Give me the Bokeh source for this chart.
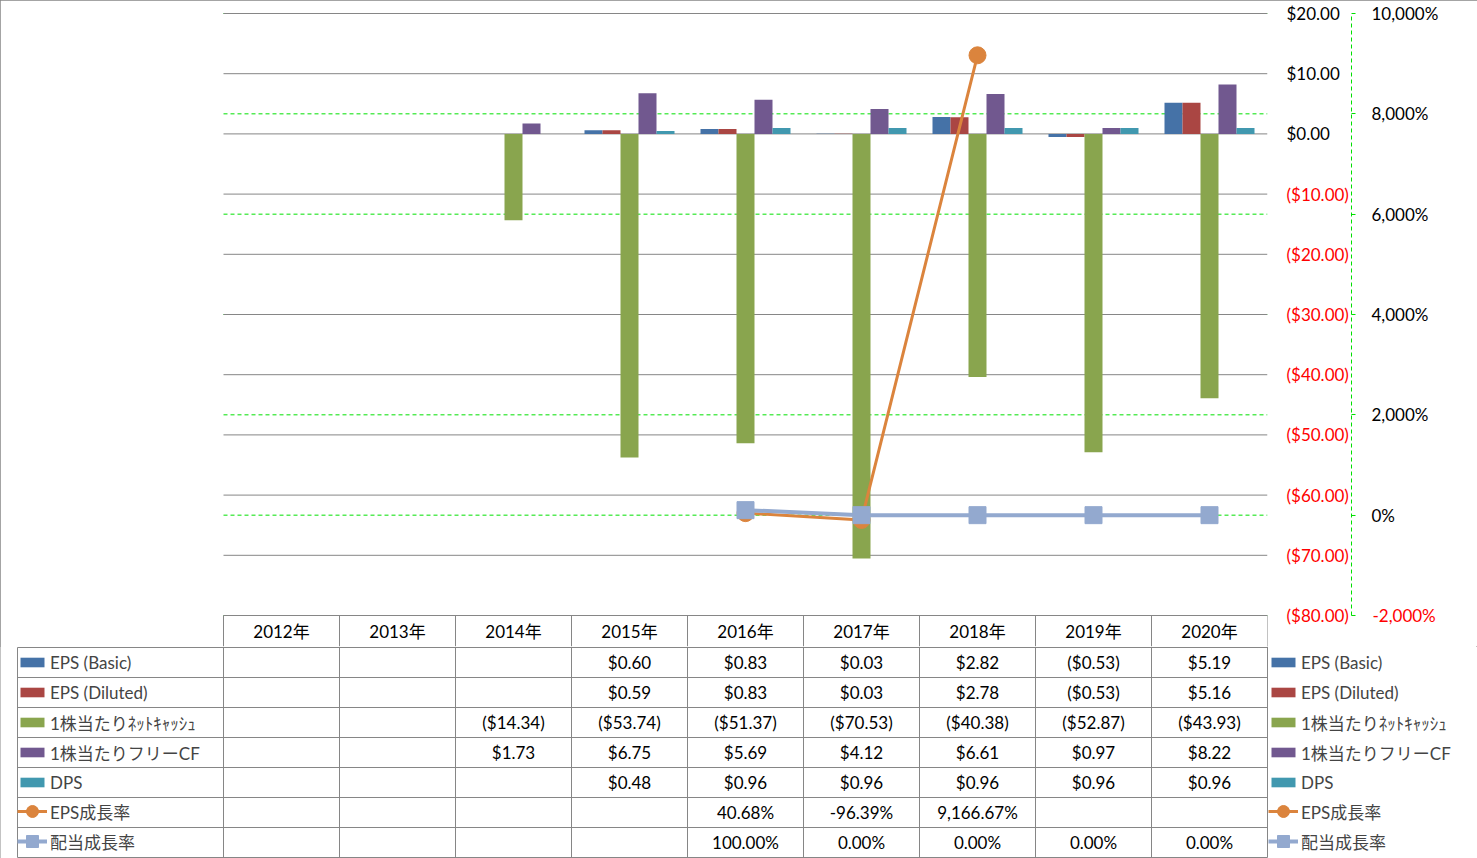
from bokeh.plotting import figure
from bokeh.layouts import column
from bokeh.models import (Range1d, FixedTicker, Legend, LegendItem, LinearAxis)
from bokeh.core.properties import value
from bokeh.embed import file_html
from bokeh.resources import INLINE

# ---------------- data ----------------
years = ["2012年", "2013年", "2014年", "2015年", "2016年", "2017年", "2018年", "2019年", "2020年"]
eps_basic = [None, None, None, 0.60, 0.83, 0.03, 2.82, -0.53, 5.19]
eps_diluted = [None, None, None, 0.59, 0.83, 0.03, 2.78, -0.53, 5.16]
net_cash = [None, None, -14.34, -53.74, -51.37, -70.53, -40.38, -52.87, -43.93]
fcf = [None, None, 1.73, 6.75, 5.69, 4.12, 6.61, 0.97, 8.22]
dps = [None, None, None, 0.48, 0.96, 0.96, 0.96, 0.96, 0.96]
eps_growth = [None, None, None, None, 40.68, -96.39, 9166.67, None, None]
div_growth = [None, None, None, None, 100.00, 0.00, 0.00, 0.00, 0.00]

bar_names = ["EPS (Basic)", "EPS (Diluted)", "1株当たりﾈｯﾄｷｬｯｼｭ", "1株当たりフリーCF", "DPS"]
line_names = ["EPS成長率", "配当成長率"]
dollar_ticks = [-80, -70, -60, -50, -40, -30, -20, -10, 0, 10, 20]
pct_ticks = [-2000, 0, 2000, 4000, 6000, 8000, 10000]

# ---------------- style / layout ----------------
FONT = "Lato, 'Noto Sans CJK JP', sans-serif"
FS = "17px"
bar_colors = ["#4572A7", "#AA4643", "#89A54E", "#71588F", "#4198AF"]
line_colors = ["#DB843D", "#93A9CF"]
GRID_GRAY = "#868686"
GREEN = "#00E000"
NAN = float("nan")

W, H = 1477, 858
TOP_H = 646
PLOT_L, PLOT_R = 223, 1267
PLOT_T, PLOT_B = 13, 615
FRAME_L, FRAME_T = 12, 11
HEADER_B = 647
ROW_H = 30.0
LEG_L = 17

ncat = len(years)
cat_w = (PLOT_R - PLOT_L) / ncat
leg_x = (LEG_L - PLOT_L) / cat_w

d_min, d_max = dollar_ticks[0], dollar_ticks[-1]
px_per_d = (PLOT_B - PLOT_T) / (d_max - d_min)
p_min, p_max = pct_ticks[0], pct_ticks[-1]
px_per_p = (PLOT_B - PLOT_T) / (p_max - p_min)

header_top = (PLOT_B - HEADER_B) / ROW_H
nrows = len(bar_names) + len(line_names)

# ================= top figure: chart + header row =================
top = figure(width=W, height=TOP_H, output_backend="svg", toolbar_location=None,
             x_range=Range1d((FRAME_L - PLOT_L) / cat_w, ncat),
             y_range=Range1d(d_max - (TOP_H - PLOT_T) / px_per_d,
                             d_max + (PLOT_T - FRAME_T) / px_per_d),
             x_axis_location=None, y_axis_location=None,
             min_border_left=FRAME_L, min_border_right=W - PLOT_R,
             min_border_top=FRAME_T, min_border_bottom=0,
             background_fill_color="white", border_fill_color="white")
top.outline_line_color = None
top.xgrid.visible = False
top.ygrid.visible = False
top.extra_y_ranges = {
    "pct": Range1d(p_max - (TOP_H - PLOT_T) / px_per_p, p_max + (PLOT_T - FRAME_T) / px_per_p),
    "tbl": Range1d((TOP_H - HEADER_B) / ROW_H, (FRAME_T - HEADER_B) / ROW_H),
}

# gridlines (secondary green dashed first, then gray)
top.segment(x0=[0] * len(pct_ticks), x1=[ncat] * len(pct_ticks), y0=pct_ticks, y1=pct_ticks,
            y_range_name="pct", line_color=GREEN, line_width=1, line_dash="4 3")
top.segment(x0=[0] * len(dollar_ticks), x1=[ncat] * len(dollar_ticks), y0=dollar_ticks, y1=dollar_ticks,
            line_color=GRID_GRAY, line_width=1)

# header row vertical lines + labels
vx = list(range(0, ncat + 1))
top.segment(x0=vx, x1=vx, y0=[header_top] * len(vx), y1=[0] * len(vx),
            y_range_name="tbl", line_color=GRID_GRAY, line_width=1)
top.text(x=[i + 0.5 for i in range(ncat)], y=[header_top / 2] * ncat, text=years,
         y_range_name="tbl", text_align="center", text_baseline="middle",
         text_font=value(FONT), text_font_size=FS, text_color="black")

# bars
bar_series = [eps_basic, eps_diluted, net_cash, fcf, dps]
bar_w = 18 / cat_w
for s, (vals, col) in enumerate(zip(bar_series, bar_colors)):
    xs = [i + 0.5 + (s - 2) * bar_w for i, v in enumerate(vals) if v is not None]
    ts = [v for v in vals if v is not None]
    top.vbar(x=xs, top=ts, bottom=0, width=bar_w, fill_color=col, line_color=None)

# lines
line_series = [eps_growth, div_growth]
line_widths = [3, 4]
markers = ["circle", "square"]
for vals, col, lw, mk in zip(line_series, line_colors, line_widths, markers):
    xs = [i + 0.5 for i, v in enumerate(vals) if v is not None]
    ys = [v for v in vals if v is not None]
    top.line(xs, ys, y_range_name="pct", line_color=col, line_width=lw)
    top.scatter(xs, ys, y_range_name="pct", marker=mk, size=17, fill_color=col, line_color=col)

# axes on the right
def fmt_d(v):
    if v is None:
        return ""
    return f"${v:.2f}" if v >= 0 else f"(${-v:.2f})"

def fmt_p(v):
    if v is None:
        return ""
    return f"{v:,.2f}%"

def base_axis(ax, color, standoff):
    ax.axis_line_color = None
    ax.major_tick_line_color = None
    ax.minor_tick_line_color = None
    ax.major_tick_out = 0
    ax.major_tick_in = 0
    ax.minor_tick_out = 0
    ax.minor_tick_in = 0
    ax.major_label_standoff = standoff
    ax.major_label_text_font = FONT
    ax.major_label_text_font_size = FS
    ax.major_label_text_color = color

pos_d = [t for t in dollar_ticks if t >= 0]
neg_d = [t for t in dollar_ticks if t < 0]

axA = LinearAxis(ticker=FixedTicker(ticks=pos_d),
                 major_label_overrides={t: fmt_d(t) for t in pos_d})
base_axis(axA, "black", 19)
top.add_layout(axA, "right")

axB = LinearAxis(ticker=FixedTicker(ticks=neg_d),
                 major_label_overrides={t: fmt_d(t) for t in neg_d})
base_axis(axB, "#FF0000", -56)
top.add_layout(axB, "right")

axC = LinearAxis(y_range_name="pct", ticker=FixedTicker(ticks=pct_ticks),
                 major_label_overrides={t: (f"{t:,}%" if t >= 0 else "") for t in pct_ticks},
                 bounds=(p_min, p_max))
base_axis(axC, "black", 16)
axC.axis_line_color = GREEN
axC.axis_line_dash = "4 3"
axC.major_tick_line_color = GREEN
axC.major_tick_out = 4
top.add_layout(axC, "right")

neg_p = [t for t in pct_ticks if t < 0]
axD = LinearAxis(y_range_name="pct", ticker=FixedTicker(ticks=neg_p),
                 major_label_overrides={t: f"{t:,}%" for t in neg_p})
base_axis(axD, "#FF0000", -69)
top.add_layout(axD, "right")

# ================= bottom figure: data table + legends =================
BOT_H = H - TOP_H
bot = figure(width=W, height=BOT_H, output_backend="svg", toolbar_location=None,
             x_range=Range1d((0 - PLOT_L) / cat_w, (W - PLOT_L) / cat_w),
             y_range=Range1d((H - HEADER_B) / ROW_H, (TOP_H - HEADER_B) / ROW_H),
             x_axis_location=None, y_axis_location=None,
             min_border_left=0, min_border_right=0, min_border_top=0, min_border_bottom=0,
             background_fill_color="white", border_fill_color="white")
bot.outline_line_color = None
bot.xgrid.visible = False
bot.ygrid.visible = False

hy = list(range(0, nrows + 1))
bot.segment(x0=[leg_x] * len(hy), x1=[ncat] * len(hy), y0=hy, y1=hy,
            line_color=GRID_GRAY, line_width=1)
y_top_b = (TOP_H - HEADER_B) / ROW_H
bot.segment(x0=vx, x1=vx, y0=[y_top_b] * len(vx), y1=[nrows] * len(vx),
            line_color=GRID_GRAY, line_width=1)
bot.segment(x0=[leg_x], x1=[leg_x], y0=[0], y1=[nrows], line_color=GRID_GRAY, line_width=1)

tx, ty, tt = [], [], []
rows = [(vals, fmt_d) for vals in bar_series] + [(vals, fmt_p) for vals in line_series]
for r, (vals, f) in enumerate(rows):
    for i, v in enumerate(vals):
        if v is not None:
            tx.append(i + 0.5); ty.append(r + 0.5); tt.append(f(v))
bot.text(x=tx, y=ty, text=tt, text_align="center", text_baseline="middle",
         text_font=value(FONT), text_font_size=FS, text_color="black")

# legend key renderers (a single NaN point each: nothing drawn, only styles for the legend)
bar_keys = []
for col in bar_colors:
    bar_keys.append([bot.vbar(x=[NAN], top=[NAN], bottom=0, width=bar_w,
                              fill_color=col, line_color=None)])
line_keys = []
for col, lw, mk in zip(line_colors, line_widths, markers):
    lr = bot.line(x=[NAN], y=[NAN], line_color=col, line_width=lw)
    sr = bot.scatter(x=[NAN], y=[NAN], marker=mk, size=17, fill_color=col, line_color=col)
    line_keys.append([lr, sr])

common = dict(padding=0, margin=0, glyph_width=30, label_standoff=3, label_text_font=FONT,
              label_text_font_size=FS, border_line_color=None, background_fill_color=None)
bar_kw = dict(spacing=4, glyph_height=12, label_height=26, **common)
line_kw = dict(spacing=0, glyph_height=30, label_height=30, **common)

n_line = len(line_names)
for lx in (LEG_L, PLOT_R + 1):
    bot.add_layout(Legend(items=[LegendItem(label=n, renderers=rs) for n, rs in zip(bar_names, bar_keys)],
                          location=(lx, 3 + int(ROW_H) * n_line), **bar_kw))
    bot.add_layout(Legend(items=[LegendItem(label=n, renderers=rs) for n, rs in zip(line_names, line_keys)],
                          location=(lx, 2), **line_kw))

if "frame_align" in top.properties():
    top.frame_align = False
    bot.frame_align = False
    layout = column(top, bot, spacing=0,
                    styles={"outline": "1px solid #868686", "outline-offset": "-1px"})
    html = file_html(layout, INLINE)
else:
    html = file_html([top, bot], INLINE)
open("out.html", "w").write(html)
